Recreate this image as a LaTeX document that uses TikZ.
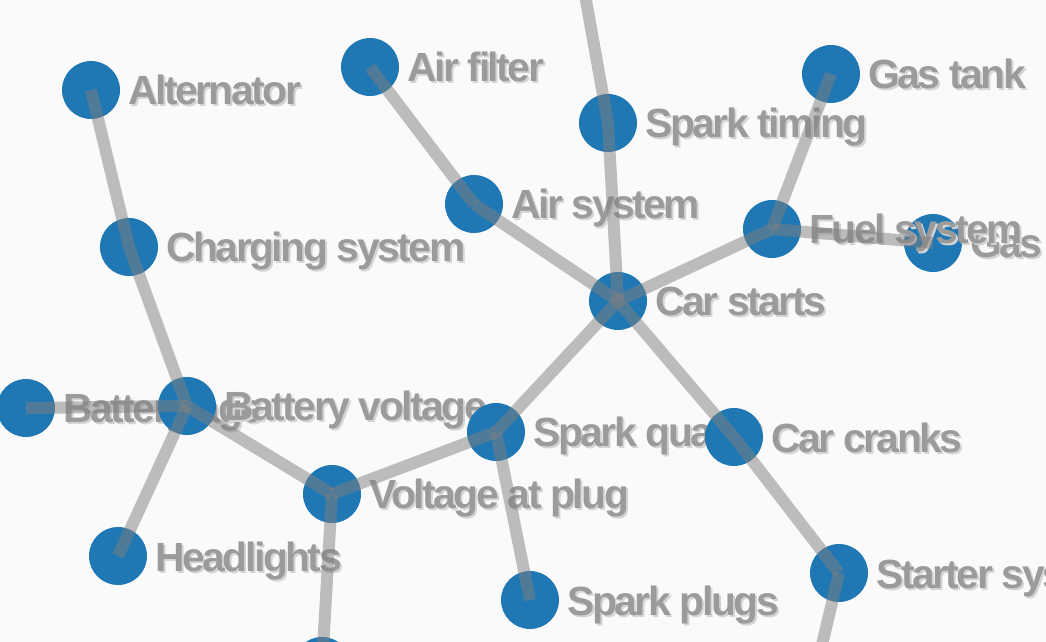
\documentclass[tikz,border=0pt]{standalone}
\usepackage{fontspec}
\setmainfont{Liberation Sans}[LetterSpace=-6]
\usepackage{xcolor}
\usetikzlibrary{math}
\definecolor{myblue}{RGB}{31,119,180}
\definecolor{mygray}{RGB}{155,155,155}
\definecolor{myshadow}{RGB}{212,212,212}
\definecolor{mybg}{RGB}{250,250,250}

\tikzset{
  dot/.style={circle, fill=myblue, inner sep=0pt, minimum size=1.45cm},
  lbl/.style={anchor=base west, inner sep=0pt, text=mygray,
    font=\fontsize{29}{32}\selectfont\bfseries},
  lblshadow/.style={lbl, text=myshadow},
  link/.style={line width=0.3cm, draw=gray, opacity=0.5}
}

% node with its label and the soft shadow of the label
\newcommand{\graphnode}[4]{%
  \node[dot] (#1) at (#2,#3) {};
  \node[lblshadow] (#1-s) at (#2+39,#3+17) {#4};
  \node[lbl] (#1-l) at (#2+37,#3+15) {#4};
}

\begin{document}
\begin{tikzpicture}[x=0.025cm, y=-0.025cm]
\tikzmath{
\W=1046; \H=642;
}

%the canvas
\fill[mybg] (0,0) rectangle (\W,\H);
\useasboundingbox (0,0) rectangle (\W,\H);
\clip (0,0) rectangle (\W,\H);

%nodes
\graphnode{alt}{91}{90}{Alternator}
\graphnode{airf}{370}{67}{Air filter}
\graphnode{timing}{608}{123}{Spark timing}
\graphnode{tank}{831}{74}{Gas tank}
\graphnode{charge}{129}{247}{Charging system}
\graphnode{airs}{474}{204}{Air system}
\graphnode{gas}{933}{243}{Gas}
\graphnode{fuel}{772}{229}{Fuel system}
\graphnode{start}{618}{301}{Car starts}
\graphnode{batt}{26}{408}{Battery age}
\graphnode{battv}{187}{406}{Battery voltage}
\graphnode{sparkq}{496}{432}{Spark quality}
\graphnode{cranks}{734}{437}{Car cranks}
\graphnode{vplug}{332}{494}{Voltage at plug}
\graphnode{head}{118}{556}{Headlights}
\graphnode{plugs}{530}{600}{Spark plugs}
\graphnode{starter}{839}{573}{Starter system}
\node[dot] (low) at (322,666) {};
\coordinate (top) at (568,-100);
\coordinate (bottom) at (809,700);

%links
\draw[link] (alt.center) -- (charge.center);
\draw[link] (charge.center) -- (battv.center);
\draw[link] (batt.center) -- (battv.center);
\draw[link] (battv.center) -- (head.center);
\draw[link] (battv.center) -- (vplug.center);
\draw[link] (vplug.center) -- (sparkq.center);
\draw[link] (vplug.center) -- (low.center);
\draw[link] (sparkq.center) -- (plugs.center);
\draw[link] (sparkq.center) -- (start.center);
\draw[link] (airf.center) -- (airs.center);
\draw[link] (airs.center) -- (start.center);
\draw[link] (timing.center) -- (start.center);
\draw[link] (top) -- (timing.center);
\draw[link] (tank.center) -- (fuel.center);
\draw[link] (fuel.center) -- (gas.center);
\draw[link] (fuel.center) -- (start.center);
\draw[link] (start.center) -- (cranks.center);
\draw[link] (cranks.center) -- (starter.center);
\draw[link] (starter.center) -- (bottom);

\end{tikzpicture}
\end{document}
